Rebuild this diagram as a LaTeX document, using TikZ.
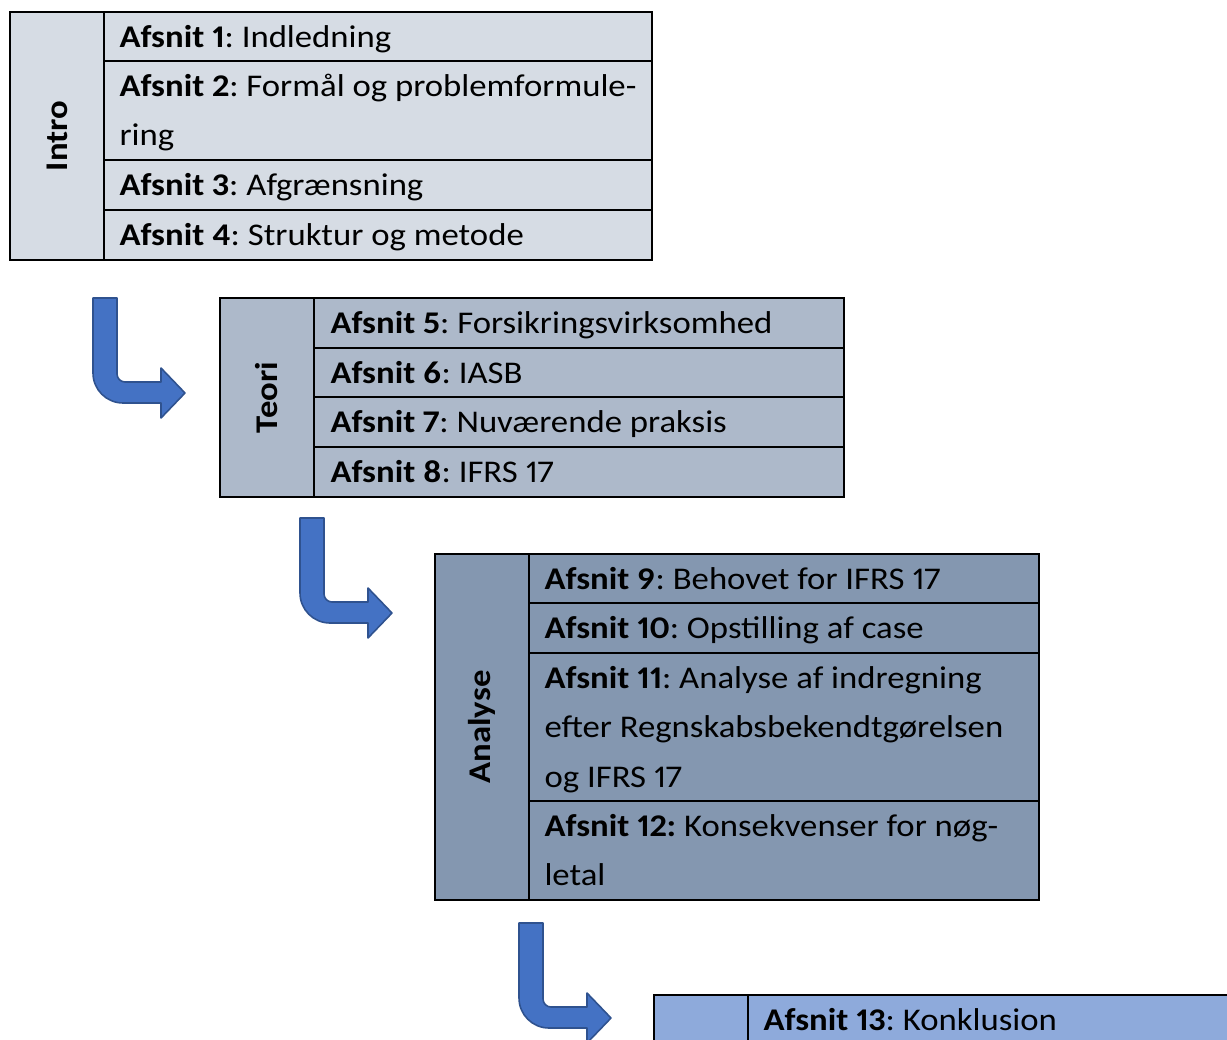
\documentclass[tikz,border=0pt]{standalone}
\usepackage{fontspec}
\setmainfont{Carlito}[Numbers=Proportional, FakeStretch=1.1]
\usetikzlibrary{positioning}
\frenchspacing

\definecolor{introfill}{HTML}{D6DCE4}
\definecolor{teorifill}{HTML}{ADB9CA}
\definecolor{analysefill}{HTML}{8497B0}
\definecolor{konklfill}{HTML}{8EAADB}
\definecolor{arrowblue}{HTML}{4472C4}
\definecolor{arrowline}{HTML}{2F528F}

\tikzset{
  cell/.style={draw=black, line width=0.8pt},
  txt/.style={anchor=north west, inner sep=0pt, align=left, font=\fontsize{12}{18.8}\selectfont},
  lbl/.style={rotate=90, inner sep=0pt, font=\fontsize{12}{18.8}\selectfont\bfseries},
  bent/.pic={
    \draw[fill=arrowblue, draw=arrowline, line width=0.6pt, line join=round]
      (0,0) -- (24,0) -- (24,76) .. controls (24,80.4) and (27.6,84) .. (32,84)
      -- (68,84) -- (68,70) -- (92,95) -- (68,120) -- (68,105) -- (30,105)
      .. controls (13.4,105) and (0,91.6) .. (0,75) -- cycle;
  }
}

\begin{document}
\begin{tikzpicture}[x=0.38pt, y=-0.38pt]
		\clip (0,0) rectangle (1227,1039);

		% Intro
		\draw[cell, fill=introfill] (10,12) rectangle (652,260);
		\draw[cell] (104,12) -- (104,260);
		\foreach \y in {61,160,210} \draw[cell] (104,\y) -- (652,\y);
		\node[lbl] (intro) at (57,136) {Intro};
		\node[txt] (s1) at (119,12) {\strut\textbf{Afsnit 1}: Indledning};
		\node[txt] (s2) at (119,61) {\strut\textbf{Afsnit 2}: Formål og problemformule-\\\strut ring};
		\node[txt] (s3) at (119,160) {\strut\textbf{Afsnit 3}: Afgrænsning};
		\node[txt] (s4) at (119,210) {\strut\textbf{Afsnit 4}: Struktur og metode};

		\pic (p1) at (93,298) {bent};

		% Teori
		\draw[cell, fill=teorifill] (220,298) rectangle (844,497);
		\draw[cell] (314,298) -- (314,497);
		\foreach \y in {348,397,447} \draw[cell] (314,\y) -- (844,\y);
		\node[lbl] (teori) at (267,397.5) {Teori};
		\node[txt] (s5) at (330,298) {\strut\textbf{Afsnit 5}: Forsikringsvirksomhed};
		\node[txt] (s6) at (330,348) {\strut\textbf{Afsnit 6}: IASB};
		\node[txt] (s7) at (330,397) {\strut\textbf{Afsnit 7}: Nuværende praksis};
		\node[txt] (s8) at (330,447) {\strut\textbf{Afsnit 8}: IFRS 17};

		\pic (p2) at (300,518) {bent};

		% Analyse
		\draw[cell, fill=analysefill] (435,554) rectangle (1039,900);
		\draw[cell] (529,554) -- (529,900);
		\foreach \y in {603,653,801} \draw[cell] (529,\y) -- (1039,\y);
		\node[lbl] (analyse) at (482,727) {Analyse};
		\node[txt] (s9) at (544,554) {\strut\textbf{Afsnit 9}: Behovet for IFRS 17};
		\node[txt] (s10) at (544,603) {\strut\textbf{Afsnit 10}: Opstilling af case};
		\node[txt] (s11) at (544,653) {\strut\textbf{Afsnit 11}: Analyse af indregning\\\strut efter Regnskabsbekendtgørelsen\\\strut og IFRS 17};
		\node[txt] (s12) at (544,801) {\strut\textbf{Afsnit 12:} Konsekvenser for nøg-\\\strut letal};

		\pic (p3) at (519,923) {bent};

		% Konklusion
		\draw[cell, fill=konklfill] (654,995) rectangle (1260,1080);
		\draw[cell] (748,995) -- (748,1080);
		\node[txt] (s13) at (763,995) {\strut\textbf{Afsnit 13}: Konklusion};
\end{tikzpicture}
\end{document}
